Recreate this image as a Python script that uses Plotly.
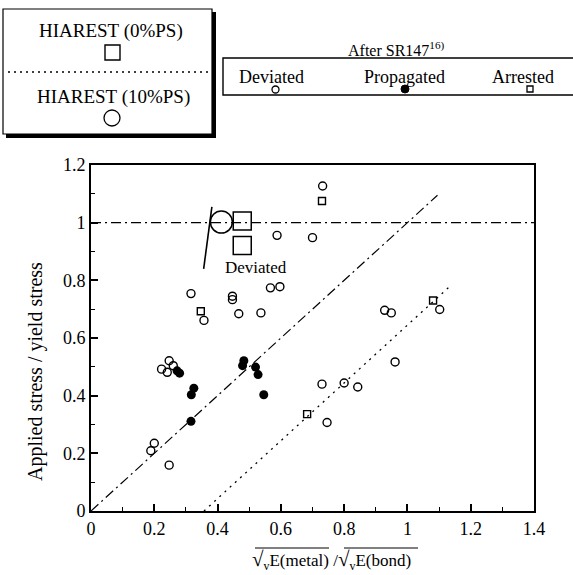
import plotly.graph_objects as go

# ---------------- data ----------------
# SR147 results (after SR147)
deviated_x = [0.732, 0.588, 0.700, 0.316, 0.447, 0.447, 0.567, 0.597, 0.357, 0.467, 0.537,
              0.247, 0.260, 0.223, 0.241, 0.200, 0.189, 0.247, 0.730, 0.746, 0.928, 0.949,
              1.102, 0.961, 0.800, 0.843]
deviated_y = [1.127, 0.956, 0.948, 0.754, 0.745, 0.733, 0.774, 0.778, 0.661, 0.684, 0.687,
              0.521, 0.504, 0.492, 0.481, 0.235, 0.209, 0.159, 0.440, 0.307, 0.696, 0.687,
              0.699, 0.517, 0.444, 0.430]
propagated_x = [0.272, 0.280, 0.325, 0.317, 0.316, 0.483, 0.479, 0.520, 0.528, 0.546]
propagated_y = [0.486, 0.478, 0.426, 0.403, 0.311, 0.521, 0.504, 0.499, 0.473, 0.403]
arrested_x = [0.730, 0.347, 0.683, 1.081]
arrested_y = [1.075, 0.693, 0.336, 0.730]

# HIAREST
hiarest0_x = [0.478, 0.478]
hiarest0_y = [1.006, 0.921]
hiarest10_x = [0.412]
hiarest10_y = [1.002]

# reference lines
yield_line_x = [0.0, 1.4]
yield_line_y = [1.0, 1.0]
upper_line_x = [0.0, 1.095]
upper_line_y = [0.0, 1.095]
lower_line_x = [0.357, 1.13]
lower_line_y = [0.0, 0.775]
pointer_x = [0.382, 0.356]
pointer_y = [1.055, 0.840]

x_ticks = [0, 0.2, 0.4, 0.6, 0.8, 1.0, 1.2, 1.4]
x_ticktext = ["0", "0.2", "0.4", "0.6", "0.8", "1", "1.2", "1.4"]
y_ticks = [0, 0.2, 0.4, 0.6, 0.8, 1.0, 1.2]
y_ticktext = ["0", "0.2", "0.4", "0.6", "0.8", "1", "1.2"]

# ---------------- layout helpers ----------------
W, H = 573, 575
ML, MR, MT, MB = 91, 39, 165, 64
PW = W - ML - MR
PH = H - MT - MB
FONT = "Liberation Serif, Times New Roman, serif"


def xp(px):
    return (px - ML) / PW


def yp(py):
    return (H - MB - py) / PH


fig = go.Figure()

dashdot = "10px,4px,2px,4px"
fig.add_trace(go.Scatter(x=yield_line_x, y=yield_line_y, mode="lines",
                         line=dict(color="black", width=1.2, dash=dashdot), hoverinfo="skip"))
fig.add_trace(go.Scatter(x=upper_line_x, y=upper_line_y, mode="lines",
                         line=dict(color="black", width=1.2, dash=dashdot), hoverinfo="skip"))
fig.add_trace(go.Scatter(x=lower_line_x, y=lower_line_y, mode="lines",
                         line=dict(color="black", width=1.3, dash="2px,5px"), hoverinfo="skip"))
fig.add_trace(go.Scatter(x=pointer_x, y=pointer_y, mode="lines",
                         line=dict(color="black", width=1.6), hoverinfo="skip"))

fig.add_trace(go.Scatter(x=deviated_x, y=deviated_y, mode="markers", name="Deviated",
                         marker=dict(symbol="circle-open", size=8, color="black",
                                     line=dict(width=1.4, color="black"))))
fig.add_trace(go.Scatter(x=propagated_x, y=propagated_y, mode="markers", name="Propagated",
                         marker=dict(symbol="circle", size=9, color="black")))
fig.add_trace(go.Scatter(x=arrested_x, y=arrested_y, mode="markers", name="Arrested",
                         marker=dict(symbol="square-open", size=7, color="black",
                                     line=dict(width=1.4, color="black"))))
fig.add_trace(go.Scatter(x=hiarest0_x, y=hiarest0_y, mode="markers", name="HIAREST (0%PS)",
                         marker=dict(symbol="square-open", size=18, color="black",
                                     line=dict(width=1.5, color="black"))))
fig.add_trace(go.Scatter(x=hiarest10_x, y=hiarest10_y, mode="markers", name="HIAREST (10%PS)",
                         marker=dict(symbol="circle-open", size=22, color="black",
                                     line=dict(width=1.5, color="black"))))

shapes = []
# left legend box with shadow
shapes.append(dict(type="rect", xref="paper", yref="paper", x0=xp(6), x1=xp(216), y0=yp(12), y1=yp(138),
                   fillcolor="black", line=dict(width=0), layer="above"))
shapes.append(dict(type="rect", xref="paper", yref="paper", x0=xp(3), x1=xp(212), y0=yp(9), y1=yp(134),
                   fillcolor="white", line=dict(color="black", width=1.2), layer="above"))
shapes.append(dict(type="line", xref="paper", yref="paper", x0=xp(8), x1=xp(208), y0=yp(72), y1=yp(72),
                   line=dict(color="black", width=1.3, dash="2px,4px"), layer="above"))
shapes.append(dict(type="rect", xref="paper", yref="paper", x0=xp(105), x1=xp(120), y0=yp(45), y1=yp(60),
                   line=dict(color="black", width=1.4), layer="above"))
shapes.append(dict(type="circle", xref="paper", yref="paper", x0=xp(104), x1=xp(120), y0=yp(110), y1=yp(126),
                   line=dict(color="black", width=1.3), layer="above"))
# right legend box
shapes.append(dict(type="rect", xref="paper", yref="paper", x0=xp(223), x1=xp(580), y0=yp(58), y1=yp(95),
                   fillcolor="white", line=dict(color="black", width=1.4), layer="above"))
shapes.append(dict(type="circle", xref="paper", yref="paper", x0=xp(272), x1=xp(279), y0=yp(86), y1=yp(93),
                   line=dict(color="black", width=1.3), layer="above"))
shapes.append(dict(type="circle", xref="paper", yref="paper", x0=xp(401), x1=xp(409), y0=yp(85), y1=yp(93),
                   fillcolor="black", line=dict(color="black", width=1), layer="above"))
shapes.append(dict(type="rect", xref="paper", yref="paper", x0=xp(527), x1=xp(533), y0=yp(86), y1=yp(92),
                   line=dict(color="black", width=1.3), layer="above"))
# overlines of the square roots in x title
shapes.append(dict(type="line", xref="paper", yref="paper", x0=xp(255), x1=xp(329), y0=yp(548), y1=yp(548),
                   line=dict(color="black", width=1)))
shapes.append(dict(type="line", xref="paper", yref="paper", x0=xp(344), x1=xp(418), y0=yp(548), y1=yp(548),
                   line=dict(color="black", width=1)))

annotations = []


def add_text(text, px, py, size, xanchor="center"):
    annotations.append(dict(text=text, x=xp(px), y=yp(py), xref="paper", yref="paper",
                            showarrow=False, xanchor=xanchor, yanchor="middle",
                            font=dict(family=FONT, size=size, color="black")))


add_text("HIAREST (0%PS)", 111, 31, 19)
add_text("HIAREST (10%PS)", 113, 97, 19)
add_text("After SR147<sup>16)</sup>", 396, 49, 16)
add_text("Deviated", 271, 77, 18)
add_text("Propagated", 404, 77, 18)
add_text("Arrested", 523, 77, 18)
add_text('<span style="font-size:21px">√</span><sub>v</sub>E(metal) /'
         '<span style="font-size:21px">√</span><sub>v</sub>E(bond)', 331, 560, 17)
annotations.append(dict(text="Deviated", x=0.523, y=0.845, xref="x", yref="y", showarrow=False,
                        font=dict(family=FONT, size=17, color="black")))
annotations.append(dict(text="Applied stress / yield stress", x=xp(35), y=yp(372), xref="paper", yref="paper",
                        showarrow=False, textangle=-90, xanchor="center", yanchor="middle",
                        font=dict(family=FONT, size=20, color="black")))

fig.update_layout(
    width=W, height=H,
    margin=dict(l=ML, r=MR, t=MT, b=MB, pad=0),
    paper_bgcolor="white", plot_bgcolor="white",
    showlegend=False,
    shapes=shapes, annotations=annotations,
    font=dict(family=FONT, color="black"),
    xaxis=dict(range=[0, 1.4], tickvals=x_ticks, ticktext=x_ticktext, showgrid=False, zeroline=False,
               showline=True, linecolor="black", linewidth=2, mirror=True,
               ticks="inside", ticklen=7, tickwidth=1.5, tickcolor="black",
               minor=dict(ticks="inside", ticklen=4, tickwidth=1.2, tickcolor="black", dtick=0.1, showgrid=False),
               tickfont=dict(family=FONT, size=18, color="black")),
    yaxis=dict(range=[0, 1.2], tickvals=y_ticks, ticktext=y_ticktext, showgrid=False, zeroline=False,
               showline=True, linecolor="black", linewidth=2, mirror=True,
               ticks="inside", ticklen=7, tickwidth=1.5, tickcolor="black",
               minor=dict(ticks="inside", ticklen=4, tickwidth=1.2, tickcolor="black", dtick=0.1, showgrid=False),
               tickfont=dict(family=FONT, size=18, color="black")),
)

fig.write_html("out.html")
